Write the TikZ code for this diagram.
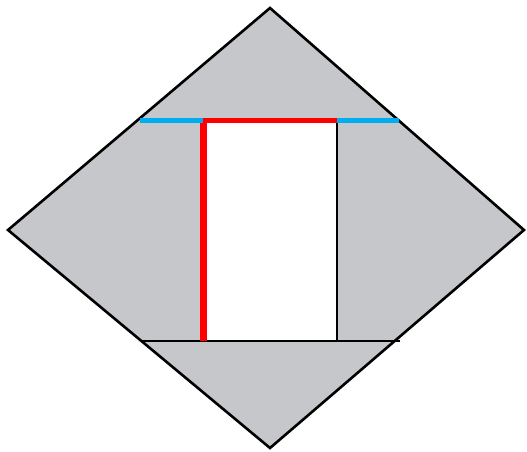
\documentclass[tikz,border=0pt]{standalone}
\usepackage{tikz}
\definecolor{paper}{RGB}{198,199,203}
\definecolor{sky}{RGB}{0,174,239}

\begin{document}
\begin{tikzpicture}[
        x=1pt, y=-1pt,
        line join=miter
    ]
    \tikzstyle{edge}=[draw=black,line width=2.6pt];
    \tikzstyle{redline}=[draw=red,line width=5pt];
    \tikzstyle{blueline}=[draw=sky,line width=5pt];
    \useasboundingbox (0,0) rectangle (527,452);
    % corners of the diamond
    \coordinate (t) at (270,8);
    \coordinate (l) at (8,230);
    \coordinate (r) at (524,230);
    \coordinate (b) at (270,448);
    % cuts
    \coordinate (ul) at (140,120);
    \coordinate (ur) at (399,120);
    \coordinate (dl) at (141,341);
    \coordinate (dr) at (400,341);
    \coordinate (a) at (203,120);
    \coordinate (c) at (337,120);
    \coordinate (a2) at (203,341);
    \coordinate (c2) at (337,341);
    % diamond
    \fill[paper] (t) -- (r) -- (b) -- (l) -- cycle;
    \fill[white] (a) rectangle (c2);
    \draw[edge] (t) -- (r) -- (b) -- (l) -- cycle;
    \draw[edge] (dl) -- (dr);
    \draw[edge] (c) -- (c2);
    % red and blue
    \draw[redline] (a) -- (c);
    \draw[redline,line width=7pt] (a2) -- ([yshift=-2.5pt]a);
    \draw[blueline] (ul) -- (a);
    \draw[blueline] (c) -- (ur);
\end{tikzpicture}
\end{document}
